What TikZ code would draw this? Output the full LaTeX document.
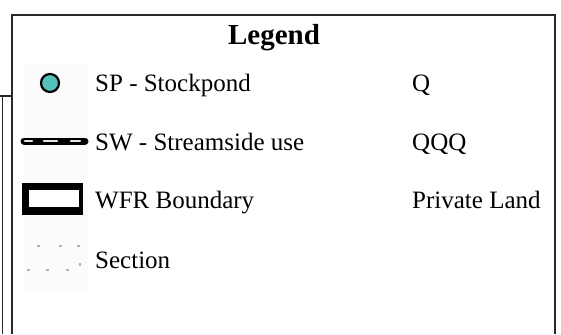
\documentclass[tikz,border=0pt]{standalone}
\usepackage{fontspec}
\setmainfont{Liberation Serif}
\definecolor{pondteal}{RGB}{84,194,184}
\definecolor{framegray}{RGB}{40,40,40}
\tikzset{
  lbl/.style={anchor=base west, inner sep=0pt, font=\fontsize{25}{30}\selectfont},
  pond/.style={circle, draw=black, line width=2.2pt, fill=pondteal, minimum size=18pt, inner sep=0pt},
  iconbg/.style={fill=black!1.5, draw=none},
  secdash/.style={gray!60, line width=1.2pt}
}
\begin{document}
\begin{tikzpicture}[x=1pt, y=-1pt]
    \useasboundingbox (0, 0) rectangle (561, 334);
    % legend frame and the box beside it
    \draw[framegray, line width=1.6pt] (12, 334) -- (12, 15) -- (555, 15) -- (555, 334);
    \draw[framegray, line width=1.2pt] (0, 96) -- (12, 96);
    \draw[framegray, line width=1.2pt] (2.5, 96) -- (2.5, 334);
    \fill[iconbg] (24, 64) rectangle (88, 290);
    \node[inner sep=0pt, font=\fontsize{29}{34}\selectfont\bfseries] (title) at (274, 45) [anchor=base] {Legend};
    % rows
    \node[pond] (sp) at (50, 83) {};
    \node[lbl] (sptext) at (95, 92) {SP - Stockpond};
    \node[lbl] (spval) at (412, 92) {Q};
    \draw[line width=7pt, line cap=round] (24, 141) -- (85, 141);
    \draw[white!80!gray, line width=2.4pt, line cap=round] (25, 141) -- (32, 141);
    \draw[white!80!gray, line width=2.4pt, line cap=round] (44, 141) -- (57, 141);
    \draw[white!80!gray, line width=2.4pt, line cap=round] (71, 141) -- (80, 141);
    \node[lbl] (swtext) at (95, 150) {SW - Streamside use};
    \node[lbl] (swval) at (412, 150) {QQQ};
    \fill (22, 183) rectangle (83, 215);
    \fill[white] (29, 190) rectangle (79, 207);
    \node[lbl] (wfrtext) at (95, 208) {WFR Boundary};
    \node[lbl] (wfrval) at (412, 208) {Private Land};
    \foreach \x in {37, 59, 77}
      \draw[secdash] (\x, 246) -- (\x + 2.5, 246);
    \foreach \x in {27, 46, 66}
      \draw[secdash] (\x, 270) -- (\x + 2.5, 270);
    \draw[secdash] (80, 263) -- (80, 266);
    \node[lbl] (sectext) at (95, 268) {Section};
\end{tikzpicture}
\end{document}
